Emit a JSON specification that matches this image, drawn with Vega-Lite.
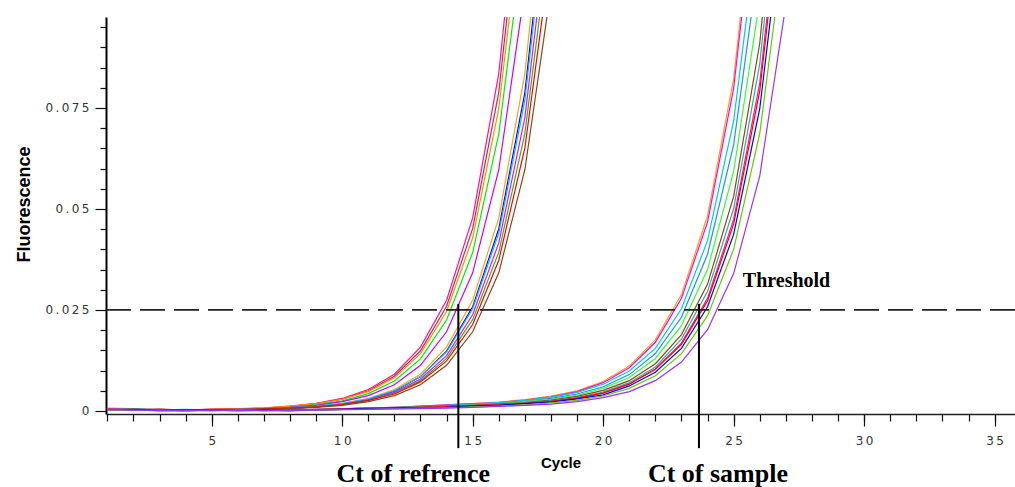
{
"$schema":"https://vega.github.io/schema/vega-lite/v6.json",
"width":909,"height":397,
"autosize":{"type":"none"},
"padding":{"left":106,"top":17,"right":0,"bottom":73},
"background":"white",
"config":{"view":{"stroke":null},"axis":{"grid":false}},
"resolve":{"axis":{"x":"independent","y":"independent"}},
"layer":[
{
"data":{"values":[
{"s":"R1","c":1,"f":0.0006},{"s":"R1","c":2,"f":0.0005},{"s":"R1","c":3,"f":0.0002},{"s":"R1","c":4,"f":0.0003},{"s":"R1","c":5,"f":0.0004},{"s":"R1","c":6,"f":0.0005},{"s":"R1","c":7,"f":0.0007},{"s":"R1","c":8,"f":0.0012},{"s":"R1","c":9,"f":0.0019},{"s":"R1","c":10,"f":0.0031},{"s":"R1","c":11,"f":0.0053},{"s":"R1","c":12,"f":0.0091},{"s":"R1","c":13,"f":0.0158},{"s":"R1","c":14,"f":0.0274},{"s":"R1","c":15,"f":0.0478},{"s":"R1","c":16,"f":0.0835},{"s":"R1","c":17,"f":0.146},
{"s":"R2","c":1,"f":0.0004},{"s":"R2","c":2,"f":0.0003},{"s":"R2","c":3,"f":0.0003},{"s":"R2","c":4,"f":0.0002},{"s":"R2","c":5,"f":0.0004},{"s":"R2","c":6,"f":0.0005},{"s":"R2","c":7,"f":0.0007},{"s":"R2","c":8,"f":0.0011},{"s":"R2","c":9,"f":0.0018},{"s":"R2","c":10,"f":0.0029},{"s":"R2","c":11,"f":0.005},{"s":"R2","c":12,"f":0.0086},{"s":"R2","c":13,"f":0.0149},{"s":"R2","c":14,"f":0.0259},{"s":"R2","c":15,"f":0.0452},{"s":"R2","c":16,"f":0.0789},{"s":"R2","c":17,"f":0.138},
{"s":"R3","c":1,"f":0.0007},{"s":"R3","c":2,"f":0.0006},{"s":"R3","c":3,"f":0.0004},{"s":"R3","c":4,"f":0.0003},{"s":"R3","c":5,"f":0.0004},{"s":"R3","c":6,"f":0.0006},{"s":"R3","c":7,"f":0.0008},{"s":"R3","c":8,"f":0.0012},{"s":"R3","c":9,"f":0.0018},{"s":"R3","c":10,"f":0.0029},{"s":"R3","c":11,"f":0.0048},{"s":"R3","c":12,"f":0.0082},{"s":"R3","c":13,"f":0.0142},{"s":"R3","c":14,"f":0.0246},{"s":"R3","c":15,"f":0.0428},{"s":"R3","c":16,"f":0.0748},{"s":"R3","c":17,"f":0.1305},
{"s":"R4","c":1,"f":0.0003},{"s":"R4","c":2,"f":0.0004},{"s":"R4","c":3,"f":0.0002},{"s":"R4","c":4,"f":0.0001},{"s":"R4","c":5,"f":0.0002},{"s":"R4","c":6,"f":0.0003},{"s":"R4","c":7,"f":0.0005},{"s":"R4","c":8,"f":0.0009},{"s":"R4","c":9,"f":0.0015},{"s":"R4","c":10,"f":0.0025},{"s":"R4","c":11,"f":0.0043},{"s":"R4","c":12,"f":0.0074},{"s":"R4","c":13,"f":0.0129},{"s":"R4","c":14,"f":0.0225},{"s":"R4","c":15,"f":0.0392},{"s":"R4","c":16,"f":0.0686},{"s":"R4","c":17,"f":0.1199},
{"s":"R5","c":1,"f":0.0005},{"s":"R5","c":2,"f":0.0004},{"s":"R5","c":3,"f":0.0003},{"s":"R5","c":4,"f":0.0002},{"s":"R5","c":5,"f":0.0003},{"s":"R5","c":6,"f":0.0004},{"s":"R5","c":7,"f":0.0006},{"s":"R5","c":8,"f":0.0009},{"s":"R5","c":9,"f":0.0014},{"s":"R5","c":10,"f":0.0023},{"s":"R5","c":11,"f":0.0038},{"s":"R5","c":12,"f":0.0065},{"s":"R5","c":13,"f":0.0113},{"s":"R5","c":14,"f":0.0196},{"s":"R5","c":15,"f":0.0342},{"s":"R5","c":16,"f":0.0597},{"s":"R5","c":17,"f":0.1044},
{"s":"R6","c":1,"f":0.0003},{"s":"R6","c":2,"f":0.0002},{"s":"R6","c":3,"f":0.0004},{"s":"R6","c":4,"f":0.0003},{"s":"R6","c":5,"f":0.0002},{"s":"R6","c":6,"f":0.0003},{"s":"R6","c":7,"f":0.0005},{"s":"R6","c":8,"f":0.0007},{"s":"R6","c":9,"f":0.0011},{"s":"R6","c":10,"f":0.0019},{"s":"R6","c":11,"f":0.0031},{"s":"R6","c":12,"f":0.0053},{"s":"R6","c":13,"f":0.0091},{"s":"R6","c":14,"f":0.0158},{"s":"R6","c":15,"f":0.0274},{"s":"R6","c":16,"f":0.0478},{"s":"R6","c":17,"f":0.0835},{"s":"R6","c":18,"f":0.146},
{"s":"R7","c":1,"f":0.0005},{"s":"R7","c":2,"f":0.0003},{"s":"R7","c":3,"f":0.0001},{"s":"R7","c":4,"f":0.0001},{"s":"R7","c":5,"f":0.0002},{"s":"R7","c":6,"f":0.0002},{"s":"R7","c":7,"f":0.0004},{"s":"R7","c":8,"f":0.0006},{"s":"R7","c":9,"f":0.001},{"s":"R7","c":10,"f":0.0017},{"s":"R7","c":11,"f":0.0028},{"s":"R7","c":12,"f":0.0049},{"s":"R7","c":13,"f":0.0085},{"s":"R7","c":14,"f":0.0148},{"s":"R7","c":15,"f":0.0258},{"s":"R7","c":16,"f":0.0451},{"s":"R7","c":17,"f":0.0788},{"s":"R7","c":18,"f":0.1379},
{"s":"R8","c":1,"f":0.0004},{"s":"R8","c":2,"f":0.0005},{"s":"R8","c":3,"f":0.0003},{"s":"R8","c":4,"f":0.0004},{"s":"R8","c":5,"f":0.0003},{"s":"R8","c":6,"f":0.0004},{"s":"R8","c":7,"f":0.0006},{"s":"R8","c":8,"f":0.0008},{"s":"R8","c":9,"f":0.0012},{"s":"R8","c":10,"f":0.0018},{"s":"R8","c":11,"f":0.003},{"s":"R8","c":12,"f":0.005},{"s":"R8","c":13,"f":0.0085},{"s":"R8","c":14,"f":0.0146},{"s":"R8","c":15,"f":0.0253},{"s":"R8","c":16,"f":0.044},{"s":"R8","c":17,"f":0.0769},{"s":"R8","c":18,"f":0.1343},
{"s":"R9","c":1,"f":0.0006},{"s":"R9","c":2,"f":0.0004},{"s":"R9","c":3,"f":0.0002},{"s":"R9","c":4,"f":0.0002},{"s":"R9","c":5,"f":0.0003},{"s":"R9","c":6,"f":0.0003},{"s":"R9","c":7,"f":0.0005},{"s":"R9","c":8,"f":0.0007},{"s":"R9","c":9,"f":0.001},{"s":"R9","c":10,"f":0.0016},{"s":"R9","c":11,"f":0.0027},{"s":"R9","c":12,"f":0.0046},{"s":"R9","c":13,"f":0.0079},{"s":"R9","c":14,"f":0.0137},{"s":"R9","c":15,"f":0.0238},{"s":"R9","c":16,"f":0.0416},{"s":"R9","c":17,"f":0.0726},{"s":"R9","c":18,"f":0.1269},
{"s":"R10","c":1,"f":0.0002},{"s":"R10","c":2,"f":0.0003},{"s":"R10","c":3,"f":0.0002},{"s":"R10","c":4,"f":0.0003},{"s":"R10","c":5,"f":0.0002},{"s":"R10","c":6,"f":0.0003},{"s":"R10","c":7,"f":0.0005},{"s":"R10","c":8,"f":0.0007},{"s":"R10","c":9,"f":0.001},{"s":"R10","c":10,"f":0.0016},{"s":"R10","c":11,"f":0.0026},{"s":"R10","c":12,"f":0.0044},{"s":"R10","c":13,"f":0.0075},{"s":"R10","c":14,"f":0.013},{"s":"R10","c":15,"f":0.0226},{"s":"R10","c":16,"f":0.0393},{"s":"R10","c":17,"f":0.0687},{"s":"R10","c":18,"f":0.12},
{"s":"R11","c":1,"f":0.0004},{"s":"R11","c":2,"f":0.0003},{"s":"R11","c":3,"f":0.0004},{"s":"R11","c":4,"f":0.0003},{"s":"R11","c":5,"f":0.0004},{"s":"R11","c":6,"f":0.0004},{"s":"R11","c":7,"f":0.0005},{"s":"R11","c":8,"f":0.0007},{"s":"R11","c":9,"f":0.001},{"s":"R11","c":10,"f":0.0016},{"s":"R11","c":11,"f":0.0026},{"s":"R11","c":12,"f":0.0042},{"s":"R11","c":13,"f":0.0072},{"s":"R11","c":14,"f":0.0124},{"s":"R11","c":15,"f":0.0214},{"s":"R11","c":16,"f":0.0373},{"s":"R11","c":17,"f":0.0651},{"s":"R11","c":18,"f":0.1136},
{"s":"R12","c":1,"f":0.0003},{"s":"R12","c":2,"f":0.0002},{"s":"R12","c":3,"f":0.0003},{"s":"R12","c":4,"f":0.0002},{"s":"R12","c":5,"f":0.0002},{"s":"R12","c":6,"f":0.0003},{"s":"R12","c":7,"f":0.0004},{"s":"R12","c":8,"f":0.0006},{"s":"R12","c":9,"f":0.0009},{"s":"R12","c":10,"f":0.0014},{"s":"R12","c":11,"f":0.0023},{"s":"R12","c":12,"f":0.0038},{"s":"R12","c":13,"f":0.0065},{"s":"R12","c":14,"f":0.0113},{"s":"R12","c":15,"f":0.0196},{"s":"R12","c":16,"f":0.0342},{"s":"R12","c":17,"f":0.0597},{"s":"R12","c":18,"f":0.1044},
{"s":"S1","c":1,"f":0.0005},{"s":"S1","c":2,"f":0.0004},{"s":"S1","c":3,"f":0.0002},{"s":"S1","c":4,"f":0.0001},{"s":"S1","c":5,"f":0.0001},{"s":"S1","c":6,"f":0.0002},{"s":"S1","c":7,"f":0.0001},{"s":"S1","c":8,"f":0.0002},{"s":"S1","c":9,"f":0.0003},{"s":"S1","c":10,"f":0.0005},{"s":"S1","c":11,"f":0.0007},{"s":"S1","c":12,"f":0.0009},{"s":"S1","c":13,"f":0.0012},{"s":"S1","c":14,"f":0.0015},{"s":"S1","c":15,"f":0.0018},{"s":"S1","c":16,"f":0.0022},{"s":"S1","c":17,"f":0.0028},{"s":"S1","c":18,"f":0.0037},{"s":"S1","c":19,"f":0.005},{"s":"S1","c":20,"f":0.0073},{"s":"S1","c":21,"f":0.0111},{"s":"S1","c":22,"f":0.0176},{"s":"S1","c":23,"f":0.0288},{"s":"S1","c":24,"f":0.0483},{"s":"S1","c":25,"f":0.0822},{"s":"S1","c":26,"f":0.1415},
{"s":"S2","c":1,"f":0.0006},{"s":"S2","c":2,"f":0.0003},{"s":"S2","c":3,"f":0.0002},{"s":"S2","c":4,"f":0.0003},{"s":"S2","c":5,"f":0.0002},{"s":"S2","c":6,"f":0.0002},{"s":"S2","c":7,"f":0.0003},{"s":"S2","c":8,"f":0.0002},{"s":"S2","c":9,"f":0.0004},{"s":"S2","c":10,"f":0.0006},{"s":"S2","c":11,"f":0.0007},{"s":"S2","c":12,"f":0.0009},{"s":"S2","c":13,"f":0.0012},{"s":"S2","c":14,"f":0.0015},{"s":"S2","c":15,"f":0.0018},{"s":"S2","c":16,"f":0.0021},{"s":"S2","c":17,"f":0.0027},{"s":"S2","c":18,"f":0.0035},{"s":"S2","c":19,"f":0.0048},{"s":"S2","c":20,"f":0.007},{"s":"S2","c":21,"f":0.0107},{"s":"S2","c":22,"f":0.017},{"s":"S2","c":23,"f":0.0279},{"s":"S2","c":24,"f":0.0468},{"s":"S2","c":25,"f":0.0799},{"s":"S2","c":26,"f":0.1374},
{"s":"S3","c":1,"f":0.0003},{"s":"S3","c":2,"f":0.0002},{"s":"S3","c":3,"f":0.0001},{"s":"S3","c":4,"f":0.0002},{"s":"S3","c":5,"f":0.0001},{"s":"S3","c":6,"f":0.0001},{"s":"S3","c":7,"f":0.0002},{"s":"S3","c":8,"f":0.0001},{"s":"S3","c":9,"f":0.0003},{"s":"S3","c":10,"f":0.0005},{"s":"S3","c":11,"f":0.0007},{"s":"S3","c":12,"f":0.0009},{"s":"S3","c":13,"f":0.0011},{"s":"S3","c":14,"f":0.0014},{"s":"S3","c":15,"f":0.0017},{"s":"S3","c":16,"f":0.0021},{"s":"S3","c":17,"f":0.0026},{"s":"S3","c":18,"f":0.0034},{"s":"S3","c":19,"f":0.0046},{"s":"S3","c":20,"f":0.0066},{"s":"S3","c":21,"f":0.0099},{"s":"S3","c":22,"f":0.0155},{"s":"S3","c":23,"f":0.0253},{"s":"S3","c":24,"f":0.0422},{"s":"S3","c":25,"f":0.0718},{"s":"S3","c":26,"f":0.1233},
{"s":"S4","c":1,"f":0.0004},{"s":"S4","c":2,"f":0.0005},{"s":"S4","c":3,"f":0.0003},{"s":"S4","c":4,"f":0.0002},{"s":"S4","c":5,"f":0.0002},{"s":"S4","c":6,"f":0.0003},{"s":"S4","c":7,"f":0.0002},{"s":"S4","c":8,"f":0.0002},{"s":"S4","c":9,"f":0.0004},{"s":"S4","c":10,"f":0.0005},{"s":"S4","c":11,"f":0.0007},{"s":"S4","c":12,"f":0.0008},{"s":"S4","c":13,"f":0.0011},{"s":"S4","c":14,"f":0.0013},{"s":"S4","c":15,"f":0.0016},{"s":"S4","c":16,"f":0.0019},{"s":"S4","c":17,"f":0.0024},{"s":"S4","c":18,"f":0.0031},{"s":"S4","c":19,"f":0.0042},{"s":"S4","c":20,"f":0.006},{"s":"S4","c":21,"f":0.009},{"s":"S4","c":22,"f":0.0142},{"s":"S4","c":23,"f":0.0232},{"s":"S4","c":24,"f":0.0388},{"s":"S4","c":25,"f":0.0659},{"s":"S4","c":26,"f":0.1132},
{"s":"S5","c":1,"f":0.0002},{"s":"S5","c":2,"f":0.0003},{"s":"S5","c":3,"f":0.0002},{"s":"S5","c":4,"f":0.0001},{"s":"S5","c":5,"f":0.0002},{"s":"S5","c":6,"f":0.0001},{"s":"S5","c":7,"f":0.0002},{"s":"S5","c":8,"f":0.0001},{"s":"S5","c":9,"f":0.0003},{"s":"S5","c":10,"f":0.0004},{"s":"S5","c":11,"f":0.0006},{"s":"S5","c":12,"f":0.0008},{"s":"S5","c":13,"f":0.001},{"s":"S5","c":14,"f":0.0012},{"s":"S5","c":15,"f":0.0015},{"s":"S5","c":16,"f":0.0018},{"s":"S5","c":17,"f":0.0023},{"s":"S5","c":18,"f":0.0029},{"s":"S5","c":19,"f":0.0039},{"s":"S5","c":20,"f":0.0056},{"s":"S5","c":21,"f":0.0083},{"s":"S5","c":22,"f":0.013},{"s":"S5","c":23,"f":0.0211},{"s":"S5","c":24,"f":0.035},{"s":"S5","c":25,"f":0.0593},{"s":"S5","c":26,"f":0.1017},{"s":"S5","c":27,"f":0.1758},
{"s":"S6","c":1,"f":0.0003},{"s":"S6","c":2,"f":0.0004},{"s":"S6","c":3,"f":0.0003},{"s":"S6","c":4,"f":0.0002},{"s":"S6","c":5,"f":0.0003},{"s":"S6","c":6,"f":0.0002},{"s":"S6","c":7,"f":0.0003},{"s":"S6","c":8,"f":0.0002},{"s":"S6","c":9,"f":0.0004},{"s":"S6","c":10,"f":0.0005},{"s":"S6","c":11,"f":0.0007},{"s":"S6","c":12,"f":0.0008},{"s":"S6","c":13,"f":0.001},{"s":"S6","c":14,"f":0.0012},{"s":"S6","c":15,"f":0.0014},{"s":"S6","c":16,"f":0.0017},{"s":"S6","c":17,"f":0.0021},{"s":"S6","c":18,"f":0.0027},{"s":"S6","c":19,"f":0.0036},{"s":"S6","c":20,"f":0.0051},{"s":"S6","c":21,"f":0.0075},{"s":"S6","c":22,"f":0.0117},{"s":"S6","c":23,"f":0.0189},{"s":"S6","c":24,"f":0.0314},{"s":"S6","c":25,"f":0.0531},{"s":"S6","c":26,"f":0.091},{"s":"S6","c":27,"f":0.1572},
{"s":"S7","c":1,"f":0.0004},{"s":"S7","c":2,"f":0.0002},{"s":"S7","c":3,"f":0.0001},{"s":"S7","c":4,"f":0.0002},{"s":"S7","c":5,"f":0.0001},{"s":"S7","c":6,"f":0.0002},{"s":"S7","c":7,"f":0.0001},{"s":"S7","c":8,"f":0.0001},{"s":"S7","c":9,"f":0.0002},{"s":"S7","c":10,"f":0.0004},{"s":"S7","c":11,"f":0.0005},{"s":"S7","c":12,"f":0.0007},{"s":"S7","c":13,"f":0.0008},{"s":"S7","c":14,"f":0.001},{"s":"S7","c":15,"f":0.0013},{"s":"S7","c":16,"f":0.0015},{"s":"S7","c":17,"f":0.0019},{"s":"S7","c":18,"f":0.0025},{"s":"S7","c":19,"f":0.0033},{"s":"S7","c":20,"f":0.0047},{"s":"S7","c":21,"f":0.007},{"s":"S7","c":22,"f":0.0109},{"s":"S7","c":23,"f":0.0178},{"s":"S7","c":24,"f":0.0296},{"s":"S7","c":25,"f":0.0501},{"s":"S7","c":26,"f":0.0859},{"s":"S7","c":27,"f":0.1486},
{"s":"S8","c":1,"f":0.0005},{"s":"S8","c":2,"f":0.0003},{"s":"S8","c":3,"f":0.0002},{"s":"S8","c":4,"f":0.0003},{"s":"S8","c":5,"f":0.0002},{"s":"S8","c":6,"f":0.0003},{"s":"S8","c":7,"f":0.0002},{"s":"S8","c":8,"f":0.0002},{"s":"S8","c":9,"f":0.0003},{"s":"S8","c":10,"f":0.0005},{"s":"S8","c":11,"f":0.0006},{"s":"S8","c":12,"f":0.0007},{"s":"S8","c":13,"f":0.0009},{"s":"S8","c":14,"f":0.001},{"s":"S8","c":15,"f":0.0013},{"s":"S8","c":16,"f":0.0015},{"s":"S8","c":17,"f":0.0019},{"s":"S8","c":18,"f":0.0024},{"s":"S8","c":19,"f":0.0032},{"s":"S8","c":20,"f":0.0045},{"s":"S8","c":21,"f":0.0067},{"s":"S8","c":22,"f":0.0104},{"s":"S8","c":23,"f":0.0168},{"s":"S8","c":24,"f":0.0279},{"s":"S8","c":25,"f":0.0474},{"s":"S8","c":26,"f":0.0812},{"s":"S8","c":27,"f":0.1403},
{"s":"S9","c":1,"f":0.0003},{"s":"S9","c":2,"f":0.0004},{"s":"S9","c":3,"f":0.0002},{"s":"S9","c":4,"f":0.0001},{"s":"S9","c":5,"f":0.0002},{"s":"S9","c":6,"f":0.0001},{"s":"S9","c":7,"f":0.0002},{"s":"S9","c":8,"f":0.0001},{"s":"S9","c":9,"f":0.0002},{"s":"S9","c":10,"f":0.0004},{"s":"S9","c":11,"f":0.0005},{"s":"S9","c":12,"f":0.0007},{"s":"S9","c":13,"f":0.0008},{"s":"S9","c":14,"f":0.001},{"s":"S9","c":15,"f":0.0013},{"s":"S9","c":16,"f":0.0015},{"s":"S9","c":17,"f":0.0019},{"s":"S9","c":18,"f":0.0024},{"s":"S9","c":19,"f":0.0032},{"s":"S9","c":20,"f":0.0044},{"s":"S9","c":21,"f":0.0066},{"s":"S9","c":22,"f":0.0103},{"s":"S9","c":23,"f":0.0165},{"s":"S9","c":24,"f":0.0273},{"s":"S9","c":25,"f":0.0463},{"s":"S9","c":26,"f":0.0792},{"s":"S9","c":27,"f":0.1368},
{"s":"S10","c":1,"f":0.0002},{"s":"S10","c":2,"f":0.0003},{"s":"S10","c":3,"f":0.0004},{"s":"S10","c":4,"f":0.0002},{"s":"S10","c":5,"f":0.0003},{"s":"S10","c":6,"f":0.0002},{"s":"S10","c":7,"f":0.0002},{"s":"S10","c":8,"f":0.0003},{"s":"S10","c":9,"f":0.0003},{"s":"S10","c":10,"f":0.0004},{"s":"S10","c":11,"f":0.0006},{"s":"S10","c":12,"f":0.0007},{"s":"S10","c":13,"f":0.0008},{"s":"S10","c":14,"f":0.0009},{"s":"S10","c":15,"f":0.0012},{"s":"S10","c":16,"f":0.0014},{"s":"S10","c":17,"f":0.0018},{"s":"S10","c":18,"f":0.0022},{"s":"S10","c":19,"f":0.003},{"s":"S10","c":20,"f":0.004},{"s":"S10","c":21,"f":0.0062},{"s":"S10","c":22,"f":0.0096},{"s":"S10","c":23,"f":0.0155},{"s":"S10","c":24,"f":0.0258},{"s":"S10","c":25,"f":0.0437},{"s":"S10","c":26,"f":0.0748},{"s":"S10","c":27,"f":0.1292},
{"s":"S11","c":1,"f":0.0002},{"s":"S11","c":2,"f":0.0001},{"s":"S11","c":3,"f":0.0002},{"s":"S11","c":4,"f":0.0001},{"s":"S11","c":5,"f":0.0001},{"s":"S11","c":6,"f":0.0002},{"s":"S11","c":7,"f":0.0001},{"s":"S11","c":8,"f":0.0002},{"s":"S11","c":9,"f":0.0002},{"s":"S11","c":10,"f":0.0003},{"s":"S11","c":11,"f":0.0004},{"s":"S11","c":12,"f":0.0005},{"s":"S11","c":13,"f":0.0007},{"s":"S11","c":14,"f":0.0008},{"s":"S11","c":15,"f":0.001},{"s":"S11","c":16,"f":0.0012},{"s":"S11","c":17,"f":0.0015},{"s":"S11","c":18,"f":0.002},{"s":"S11","c":19,"f":0.0026},{"s":"S11","c":20,"f":0.0037},{"s":"S11","c":21,"f":0.0056},{"s":"S11","c":22,"f":0.0087},{"s":"S11","c":23,"f":0.0142},{"s":"S11","c":24,"f":0.0236},{"s":"S11","c":25,"f":0.04},{"s":"S11","c":26,"f":0.0687},{"s":"S11","c":27,"f":0.1187},
{"s":"S12","c":1,"f":0.0003},{"s":"S12","c":2,"f":0.0002},{"s":"S12","c":3,"f":0.0001},{"s":"S12","c":4,"f":0.0001},{"s":"S12","c":5,"f":0.0002},{"s":"S12","c":6,"f":0.0001},{"s":"S12","c":7,"f":0.0001},{"s":"S12","c":8,"f":0.0001},{"s":"S12","c":9,"f":0.0002},{"s":"S12","c":10,"f":0.0003},{"s":"S12","c":11,"f":0.0004},{"s":"S12","c":12,"f":0.0005},{"s":"S12","c":13,"f":0.0006},{"s":"S12","c":14,"f":0.0007},{"s":"S12","c":15,"f":0.0009},{"s":"S12","c":16,"f":0.0011},{"s":"S12","c":17,"f":0.0014},{"s":"S12","c":18,"f":0.0017},{"s":"S12","c":19,"f":0.0023},{"s":"S12","c":20,"f":0.0033},{"s":"S12","c":21,"f":0.0048},{"s":"S12","c":22,"f":0.0075},{"s":"S12","c":23,"f":0.0121},{"s":"S12","c":24,"f":0.0201},{"s":"S12","c":25,"f":0.034},{"s":"S12","c":26,"f":0.0582},{"s":"S12","c":27,"f":0.1005},{"s":"S12","c":28,"f":0.1745}
]},
"mark":{"type":"line","clip":true,"strokeWidth":1.2},
"encoding":{
"x":{"field":"c","type":"quantitative","scale":{"domain":[0.95,35.78],"nice":false,"zero":false},
"axis":{"orient":"bottom","values":[5,10,15,20,25,30,35],
"title":"Cycle","labelExpr":"join(split(format(datum.value, 'd'), ''), '\u2009')",
"tickSize":12,
"labelFont":"DejaVu Sans","labelFontSize":12,"labelColor":"#333","labelPadding":9,"labelOverlap":false,"labelFlush":false,
"tickColor":"#111","tickWidth":1.2,"domainColor":"#222","domainWidth":1.5,
"titleFont":"Liberation Sans","titleFontSize":15,"titleFontWeight":"bold","titleColor":"black","titlePadding":9}},
"y":{"field":"f","type":"quantitative","scale":{"domain":[-0.00075,0.0975],"nice":false,"zero":false},
"axis":{"orient":"left","values":[0,0.025,0.05,0.075],
"title":"Fluorescence",
"labelExpr":"join(split(format(datum.value, '~g'), ''), '\u2009')",
"tickSize":11,
"labelFont":"DejaVu Sans","labelFontSize":12,"labelColor":"#333","labelPadding":6,"labelOverlap":false,"labelFlush":false,
"tickColor":"#111","tickWidth":1.2,"domainColor":"#000","domainWidth":2,
"titleFont":"Liberation Sans","titleFontSize":18,"titleFontWeight":"bold","titleColor":"black","titlePadding":12,"titleY":187}},
"color":{"field":"s","type":"nominal","legend":null,
"scale":{"domain":["R1","R2","R3","R4","R5","R6","R7","R8","R9","R10","R11","R12","S1","S2","S3","S4","S5","S6","S7","S8","S9","S10","S11","S12"],
"range":["#ff1493","#b03060","#ff8c00","#00ee00","#cc00ff","#ffa500","#0000ff","#00bfff","#ff00ff","#22bb22","#ff0000","#8b4513","#ffa500","#ff00ff","#00ced1","#1e90ff","#33ff33","#8b4513","#20b2aa","#ff1493","#ff0000","#0000ff","#66cc00","#9933ff"]}}
}
},
{
"data":{"values":[{"name":"Threshold","t":0.025}]},
"mark":{"type":"rule","strokeDash":[25,9],"strokeWidth":1.8,"color":"#222"},
"encoding":{"y":{"field":"t","type":"quantitative","axis":null}}
},
{
"data":{"values":[{"name":"Threshold","t":0.025}]},
"mark":{"type":"text","align":"left","baseline":"alphabetic","dy":-23,"font":"Liberation Serif","fontWeight":"bold","fontSize":20,"color":"black"},
"encoding":{"x":{"datum":25.35,"type":"quantitative","axis":null},"y":{"field":"t","type":"quantitative","axis":null},"text":{"field":"name"}}
},
{
"data":{"values":[{"name":"Ct of refrence","ct":14.45},{"name":"Ct of sample","ct":23.67}]},
"mark":{"type":"rule","strokeWidth":2,"color":"black","clip":false},
"encoding":{
"x":{"field":"ct","type":"quantitative","axis":{"orient":"bottom","values":[1,2,3,4,5,6,7,8,9,10,11,12,13,14,15,16,17,18,19,20,21,22,23,24,25,26,27,28,29,30,31,32,33,34,35],"labels":false,"domain":false,"title":null,"tickSize":7,"tickColor":"#111","tickWidth":1.2}},
"y":{"datum":0.0265,"type":"quantitative","axis":{"orient":"left","values":[0.005,0.01,0.015,0.02,0.03,0.035,0.04,0.045,0.055,0.06,0.065,0.07,0.08,0.085,0.09,0.095],"labels":false,"domain":false,"title":null,"tickSize":6,"tickColor":"#111","tickWidth":1.2}},
"y2":{"datum":-0.0092}}
},
{
"data":{"values":[{"name":"Ct of refrence","ct":14.45},{"name":"Ct of sample","ct":23.67}]},
"transform":[{"filter":"datum.name == 'Ct of refrence'"}],
"mark":{"type":"text","align":"center","baseline":"alphabetic","dx":-45,"font":"Liberation Serif","fontWeight":"bold","fontSize":26,"color":"black"},
"encoding":{"x":{"field":"ct","type":"quantitative","axis":null},"y":{"datum":-0.0177,"type":"quantitative","axis":null},"text":{"field":"name"}}
},
{
"data":{"values":[{"name":"Ct of refrence","ct":14.45},{"name":"Ct of sample","ct":23.67}]},
"transform":[{"filter":"datum.name == 'Ct of sample'"}],
"mark":{"type":"text","align":"center","baseline":"alphabetic","dx":19,"font":"Liberation Serif","fontWeight":"bold","fontSize":26,"color":"black"},
"encoding":{"x":{"field":"ct","type":"quantitative","axis":null},"y":{"datum":-0.0177,"type":"quantitative","axis":null},"text":{"field":"name"}}
}
]
}
